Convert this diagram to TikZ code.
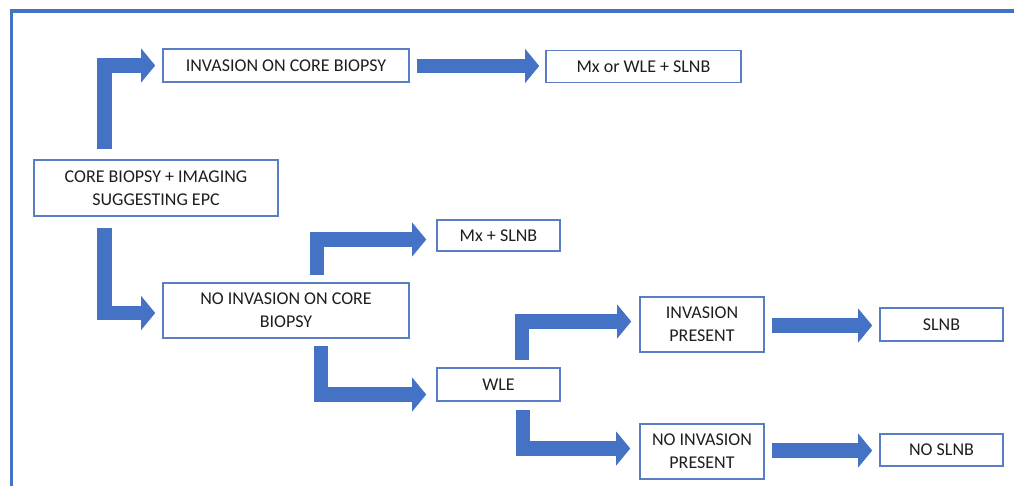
\documentclass[tikz,border=0pt]{standalone}
\usepackage{fontspec}
\setmainfont{Carlito}
\usetikzlibrary{arrows.meta,calc}
\definecolor{ablue}{HTML}{4472C4}
\definecolor{bblue}{HTML}{5A7EC4}
\definecolor{txt}{HTML}{1E1E1E}
\tikzset{
  box/.style={draw=bblue, line width=1.6pt, fill=white, inner sep=0pt, align=center,
    text=txt, font=\fontsize{18}{23}\selectfont},
  bigarrow/.style={draw=ablue, line width=14.5pt, line join=miter, line cap=butt,
    -{Triangle[width=34pt,length=14pt,line width=0pt]}},
}
\begin{document}
\begin{tikzpicture}[x=1pt,y=-1pt]
\useasboundingbox (0,0) rectangle (1014,486);
\fill[white] (0,0) rectangle (1014,486);
% frame
\draw[ablue, line width=3.5pt] (11.5,490) -- (11.5,11) -- (1020,11);
% boxes
\node[box, minimum width=246pt, minimum height=33pt] (inv) at (286,65.5) {INVASION ON CORE BIOPSY};
\node[box, minimum width=195pt, minimum height=32pt] (mxwle) at (643.5,66.5) {Mx or WLE + SLNB};
\node[box, minimum width=244pt, minimum height=56pt] (core) at (156,188) {CORE BIOPSY + IMAGING\\SUGGESTING EPC};
\node[box, minimum width=123pt, minimum height=31pt] (mxslnb) at (498.5,235.5) {Mx + SLNB};
\node[box, minimum width=246pt, minimum height=55pt] (noinv) at (286,310.5) {NO INVASION ON CORE\\BIOPSY};
\node[box, minimum width=123pt, minimum height=33pt] (wle) at (498.5,384.5) {WLE};
\node[box, minimum width=124pt, minimum height=55pt] (invp) at (702,324.5) {INVASION\\PRESENT};
\node[box, minimum width=124pt, minimum height=55pt] (noinvp) at (702,451.5) {NO INVASION\\PRESENT};
\node[box, minimum width=123pt, minimum height=33pt] (slnb) at (941.5,324.5) {SLNB};
\node[box, minimum width=123pt, minimum height=32pt] (noslnb) at (941.5,450) {NO SLNB};
% connectors
\coordinate (s1) at ($(core.north)+(-51.5,-10)$);
\coordinate (s2) at ($(core.south)+(-51.5,11)$);
\coordinate (s4) at ($(noinv.north)+(31,-7)$);
\coordinate (s5) at ($(noinv.south)+(35,7)$);
\coordinate (s6) at ($(wle.north)+(23.5,-7)$);
\coordinate (s7) at ($(wle.south)+(24.5,8)$);
\draw[bigarrow] (s1) |- ($(inv.west)+(-7,0)$);
\draw[bigarrow] (s2) |- ($(noinv.west)+(-7,2.5)$);
\draw[bigarrow] ($(inv.east)+(7,0.5)$) -- ($(inv.east -| mxwle.west)+(-6,0.5)$);
\draw[bigarrow] (s4) |- ($(mxslnb.west)+(-10,4)$);
\draw[bigarrow] (s5) |- ($(wle.west)+(-10,10)$);
\draw[bigarrow] (s6) |- ($(invp.west)+(-8,-3)$);
\draw[bigarrow] (s7) |- ($(noinvp.west)+(-9,-3)$);
\draw[bigarrow] ($(invp.east)+(7,1)$) -- ($(invp.east -| slnb.west)+(-7,1)$);
\draw[bigarrow] ($(noinvp.east)+(7,-1)$) -- ($(noinvp.east -| noslnb.west)+(-7,-1)$);
\end{tikzpicture}
\end{document}
